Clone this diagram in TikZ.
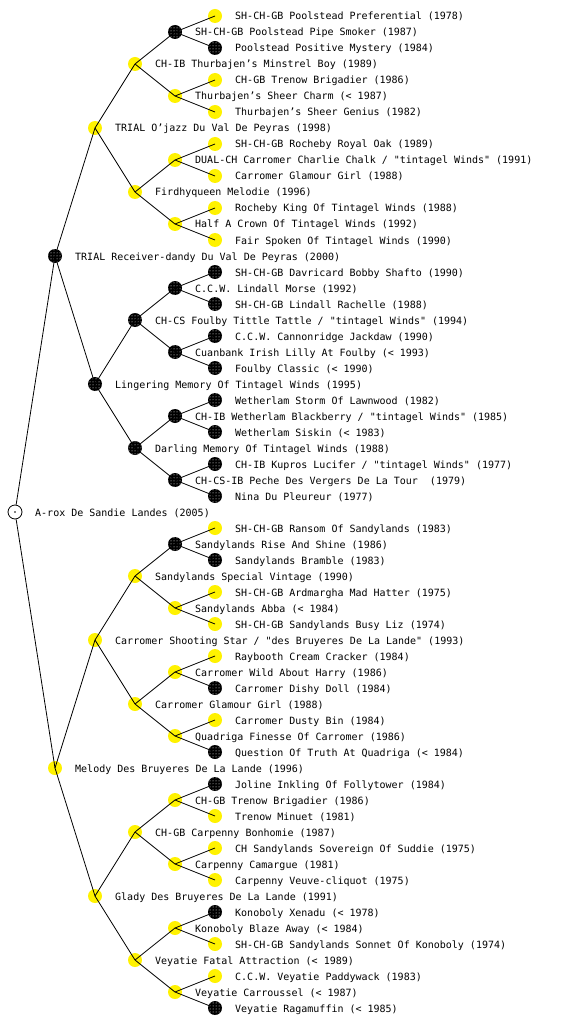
\documentclass[tikz,border=0pt]{standalone}
\usepackage{fontspec}
\newfontfamily\dogfont{DejaVu Sans Mono}
\usetikzlibrary{patterns}

\tikzset{
  ydog/.style={circle, inner sep=0, minimum size=14pt, fill=yellow},
  bdog/.style={circle, inner sep=0, minimum size=14pt, fill=black,
    postaction={pattern=dots, pattern color=white}},
  rootdog/.style={circle, inner sep=0, minimum size=14pt, draw=black, fill=white, line width=0.8pt},
  lbl/.style={anchor=base west, inner sep=0, font=\dogfont\fontsize{10pt}{12pt}\selectfont},
  kin/.style={line width=0.8pt}
}

\begin{document}
\begin{tikzpicture}[x=1pt, y=-1pt]
\useasboundingbox[fill=white] (0,0) rectangle (560,1024);
% dogs
\node[rootdog] (r) at (15,512) {};
\fill (r.center) circle (0.8pt);
\node[bdog] (r1) at (55,256) {};
\node[ydog] (r2) at (55,768) {};
\node[ydog] (r11) at (95,128) {};
\node[bdog] (r12) at (95,384) {};
\node[ydog] (r21) at (95,640) {};
\node[ydog] (r22) at (95,896) {};
\node[ydog] (r111) at (135,64) {};
\node[ydog] (r112) at (135,192) {};
\node[bdog] (r121) at (135,320) {};
\node[bdog] (r122) at (135,448) {};
\node[ydog] (r211) at (135,576) {};
\node[ydog] (r212) at (135,704) {};
\node[ydog] (r221) at (135,832) {};
\node[ydog] (r222) at (135,960) {};
\node[bdog] (r1111) at (175,32) {};
\node[ydog] (r1112) at (175,96) {};
\node[ydog] (r1121) at (175,160) {};
\node[ydog] (r1122) at (175,224) {};
\node[bdog] (r1211) at (175,288) {};
\node[bdog] (r1212) at (175,352) {};
\node[bdog] (r1221) at (175,416) {};
\node[bdog] (r1222) at (175,480) {};
\node[bdog] (r2111) at (175,544) {};
\node[ydog] (r2112) at (175,608) {};
\node[ydog] (r2121) at (175,672) {};
\node[ydog] (r2122) at (175,736) {};
\node[ydog] (r2211) at (175,800) {};
\node[ydog] (r2212) at (175,864) {};
\node[ydog] (r2221) at (175,928) {};
\node[ydog] (r2222) at (175,992) {};
\node[ydog] (r11111) at (215,16) {};
\node[bdog] (r11112) at (215,48) {};
\node[ydog] (r11121) at (215,80) {};
\node[ydog] (r11122) at (215,112) {};
\node[ydog] (r11211) at (215,144) {};
\node[ydog] (r11212) at (215,176) {};
\node[ydog] (r11221) at (215,208) {};
\node[ydog] (r11222) at (215,240) {};
\node[bdog] (r12111) at (215,272) {};
\node[bdog] (r12112) at (215,304) {};
\node[bdog] (r12121) at (215,336) {};
\node[bdog] (r12122) at (215,368) {};
\node[bdog] (r12211) at (215,400) {};
\node[bdog] (r12212) at (215,432) {};
\node[bdog] (r12221) at (215,464) {};
\node[bdog] (r12222) at (215,496) {};
\node[ydog] (r21111) at (215,528) {};
\node[bdog] (r21112) at (215,560) {};
\node[ydog] (r21121) at (215,592) {};
\node[ydog] (r21122) at (215,624) {};
\node[ydog] (r21211) at (215,656) {};
\node[bdog] (r21212) at (215,688) {};
\node[ydog] (r21221) at (215,720) {};
\node[bdog] (r21222) at (215,752) {};
\node[bdog] (r22111) at (215,784) {};
\node[ydog] (r22112) at (215,816) {};
\node[ydog] (r22121) at (215,848) {};
\node[ydog] (r22122) at (215,880) {};
\node[bdog] (r22211) at (215,912) {};
\node[ydog] (r22212) at (215,944) {};
\node[ydog] (r22221) at (215,976) {};
\node[bdog] (r22222) at (215,1008) {};
% lines of descent
\draw[kin] (r) -- (r1.center) (r) -- (r2.center);
\draw[kin] (r1.center) -- (r11.center) (r1.center) -- (r12.center);
\draw[kin] (r2.center) -- (r21.center) (r2.center) -- (r22.center);
\draw[kin] (r11.center) -- (r111.center) (r11.center) -- (r112.center);
\draw[kin] (r12.center) -- (r121.center) (r12.center) -- (r122.center);
\draw[kin] (r21.center) -- (r211.center) (r21.center) -- (r212.center);
\draw[kin] (r22.center) -- (r221.center) (r22.center) -- (r222.center);
\draw[kin] (r111.center) -- (r1111.center) (r111.center) -- (r1112.center);
\draw[kin] (r112.center) -- (r1121.center) (r112.center) -- (r1122.center);
\draw[kin] (r121.center) -- (r1211.center) (r121.center) -- (r1212.center);
\draw[kin] (r122.center) -- (r1221.center) (r122.center) -- (r1222.center);
\draw[kin] (r211.center) -- (r2111.center) (r211.center) -- (r2112.center);
\draw[kin] (r212.center) -- (r2121.center) (r212.center) -- (r2122.center);
\draw[kin] (r221.center) -- (r2211.center) (r221.center) -- (r2212.center);
\draw[kin] (r222.center) -- (r2221.center) (r222.center) -- (r2222.center);
\draw[kin] (r1111.center) -- (r11111.center) (r1111.center) -- (r11112.center);
\draw[kin] (r1112.center) -- (r11121.center) (r1112.center) -- (r11122.center);
\draw[kin] (r1121.center) -- (r11211.center) (r1121.center) -- (r11212.center);
\draw[kin] (r1122.center) -- (r11221.center) (r1122.center) -- (r11222.center);
\draw[kin] (r1211.center) -- (r12111.center) (r1211.center) -- (r12112.center);
\draw[kin] (r1212.center) -- (r12121.center) (r1212.center) -- (r12122.center);
\draw[kin] (r1221.center) -- (r12211.center) (r1221.center) -- (r12212.center);
\draw[kin] (r1222.center) -- (r12221.center) (r1222.center) -- (r12222.center);
\draw[kin] (r2111.center) -- (r21111.center) (r2111.center) -- (r21112.center);
\draw[kin] (r2112.center) -- (r21121.center) (r2112.center) -- (r21122.center);
\draw[kin] (r2121.center) -- (r21211.center) (r2121.center) -- (r21212.center);
\draw[kin] (r2122.center) -- (r21221.center) (r2122.center) -- (r21222.center);
\draw[kin] (r2211.center) -- (r22111.center) (r2211.center) -- (r22112.center);
\draw[kin] (r2212.center) -- (r22121.center) (r2212.center) -- (r22122.center);
\draw[kin] (r2221.center) -- (r22211.center) (r2221.center) -- (r22212.center);
\draw[kin] (r2222.center) -- (r22221.center) (r2222.center) -- (r22222.center);
% names
\node[lbl] (rt) at (35,516) {A-rox De Sandie Landes (2005)};
\node[lbl] (r1t) at (75,260) {TRIAL Receiver-dandy Du Val De Peyras (2000)};
\node[lbl] (r2t) at (75,772) {Melody Des Bruyeres De La Lande (1996)};
\node[lbl] (r11t) at (115,132) {TRIAL O’jazz Du Val De Peyras (1998)};
\node[lbl] (r12t) at (115,388) {Lingering Memory Of Tintagel Winds (1995)};
\node[lbl] (r21t) at (115,644) {Carromer Shooting Star / "des Bruyeres De La Lande" (1993)};
\node[lbl] (r22t) at (115,900) {Glady Des Bruyeres De La Lande (1991)};
\node[lbl] (r111t) at (155,68) {CH-IB Thurbajen’s Minstrel Boy (1989)};
\node[lbl] (r112t) at (155,196) {Firdhyqueen Melodie (1996)};
\node[lbl] (r121t) at (155,324) {CH-CS Foulby Tittle Tattle / "tintagel Winds" (1994)};
\node[lbl] (r122t) at (155,452) {Darling Memory Of Tintagel Winds (1988)};
\node[lbl] (r211t) at (155,580) {Sandylands Special Vintage (1990)};
\node[lbl] (r212t) at (155,708) {Carromer Glamour Girl (1988)};
\node[lbl] (r221t) at (155,836) {CH-GB Carpenny Bonhomie (1987)};
\node[lbl] (r222t) at (155,964) {Veyatie Fatal Attraction (< 1989)};
\node[lbl] (r1111t) at (195,36) {SH-CH-GB Poolstead Pipe Smoker (1987)};
\node[lbl] (r1112t) at (195,100) {Thurbajen’s Sheer Charm (< 1987)};
\node[lbl] (r1121t) at (195,164) {DUAL-CH Carromer Charlie Chalk / "tintagel Winds" (1991)};
\node[lbl] (r1122t) at (195,228) {Half A Crown Of Tintagel Winds (1992)};
\node[lbl] (r1211t) at (195,292) {C.C.W. Lindall Morse (1992)};
\node[lbl] (r1212t) at (195,356) {Cuanbank Irish Lilly At Foulby (< 1993)};
\node[lbl] (r1221t) at (195,420) {CH-IB Wetherlam Blackberry / "tintagel Winds" (1985)};
\node[lbl] (r1222t) at (195,484) {CH-CS-IB Peche Des Vergers De La Tour~~(1979)};
\node[lbl] (r2111t) at (195,548) {Sandylands Rise And Shine (1986)};
\node[lbl] (r2112t) at (195,612) {Sandylands Abba (< 1984)};
\node[lbl] (r2121t) at (195,676) {Carromer Wild About Harry (1986)};
\node[lbl] (r2122t) at (195,740) {Quadriga Finesse Of Carromer (1986)};
\node[lbl] (r2211t) at (195,804) {CH-GB Trenow Brigadier (1986)};
\node[lbl] (r2212t) at (195,868) {Carpenny Camargue (1981)};
\node[lbl] (r2221t) at (195,932) {Konoboly Blaze Away (< 1984)};
\node[lbl] (r2222t) at (195,996) {Veyatie Carroussel (< 1987)};
\node[lbl] (r11111t) at (235,20) {SH-CH-GB Poolstead Preferential (1978)};
\node[lbl] (r11112t) at (235,52) {Poolstead Positive Mystery (1984)};
\node[lbl] (r11121t) at (235,84) {CH-GB Trenow Brigadier (1986)};
\node[lbl] (r11122t) at (235,116) {Thurbajen’s Sheer Genius (1982)};
\node[lbl] (r11211t) at (235,148) {SH-CH-GB Rocheby Royal Oak (1989)};
\node[lbl] (r11212t) at (235,180) {Carromer Glamour Girl (1988)};
\node[lbl] (r11221t) at (235,212) {Rocheby King Of Tintagel Winds (1988)};
\node[lbl] (r11222t) at (235,244) {Fair Spoken Of Tintagel Winds (1990)};
\node[lbl] (r12111t) at (235,276) {SH-CH-GB Davricard Bobby Shafto (1990)};
\node[lbl] (r12112t) at (235,308) {SH-CH-GB Lindall Rachelle (1988)};
\node[lbl] (r12121t) at (235,340) {C.C.W. Cannonridge Jackdaw (1990)};
\node[lbl] (r12122t) at (235,372) {Foulby Classic (< 1990)};
\node[lbl] (r12211t) at (235,404) {Wetherlam Storm Of Lawnwood (1982)};
\node[lbl] (r12212t) at (235,436) {Wetherlam Siskin (< 1983)};
\node[lbl] (r12221t) at (235,468) {CH-IB Kupros Lucifer / "tintagel Winds" (1977)};
\node[lbl] (r12222t) at (235,500) {Nina Du Pleureur (1977)};
\node[lbl] (r21111t) at (235,532) {SH-CH-GB Ransom Of Sandylands (1983)};
\node[lbl] (r21112t) at (235,564) {Sandylands Bramble (1983)};
\node[lbl] (r21121t) at (235,596) {SH-CH-GB Ardmargha Mad Hatter (1975)};
\node[lbl] (r21122t) at (235,628) {SH-CH-GB Sandylands Busy Liz (1974)};
\node[lbl] (r21211t) at (235,660) {Raybooth Cream Cracker (1984)};
\node[lbl] (r21212t) at (235,692) {Carromer Dishy Doll (1984)};
\node[lbl] (r21221t) at (235,724) {Carromer Dusty Bin (1984)};
\node[lbl] (r21222t) at (235,756) {Question Of Truth At Quadriga (< 1984)};
\node[lbl] (r22111t) at (235,788) {Joline Inkling Of Follytower (1984)};
\node[lbl] (r22112t) at (235,820) {Trenow Minuet (1981)};
\node[lbl] (r22121t) at (235,852) {CH Sandylands Sovereign Of Suddie (1975)};
\node[lbl] (r22122t) at (235,884) {Carpenny Veuve-cliquot (1975)};
\node[lbl] (r22211t) at (235,916) {Konoboly Xenadu (< 1978)};
\node[lbl] (r22212t) at (235,948) {SH-CH-GB Sandylands Sonnet Of Konoboly (1974)};
\node[lbl] (r22221t) at (235,980) {C.C.W. Veyatie Paddywack (1983)};
\node[lbl] (r22222t) at (235,1012) {Veyatie Ragamuffin (< 1985)};
\end{tikzpicture}
\end{document}
